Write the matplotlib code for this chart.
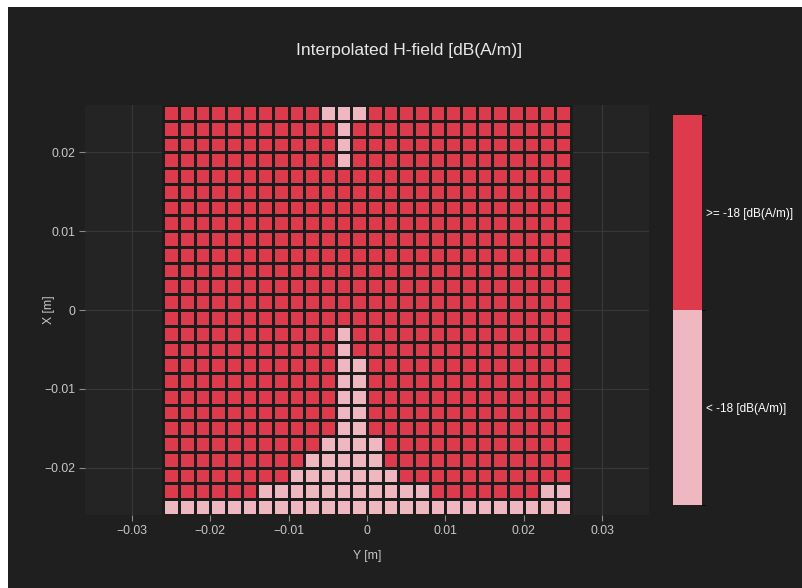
import matplotlib
matplotlib.use("Agg")
import matplotlib.pyplot as plt
import numpy as np
from matplotlib.colors import ListedColormap, BoundaryNorm
from matplotlib.patches import Rectangle

plt.rcParams['font.family'] = ['Liberation Sans', 'DejaVu Sans']

# grid cell centres (m)
y_centres = [-0.025, -0.023, -0.021, -0.019, -0.017, -0.015, -0.013, -0.011, -0.009,
             -0.007, -0.005, -0.003, -0.001, 0.001, 0.003, 0.005, 0.007, 0.009,
             0.011, 0.013, 0.015, 0.017, 0.019, 0.021, 0.023, 0.025]
x_centres = list(y_centres)

# 1 = ">= -18 dB(A/m)", 0 = "< -18 dB(A/m)", rows from x = 0.025 down to x = -0.025
rows = [
    "11111111110001111111111111",
    "11111111111011111111111111",
    "11111111111011111111111111",
    "11111111111011111111111111",
    "11111111111111111111111111",
    "11111111111111111111111111",
    "11111111111111111111111111",
    "11111111111111111111111111",
    "11111111111111111111111111",
    "11111111111111111111111111",
    "11111111111111111111111111",
    "11111111111111111111111111",
    "11111111111111111111111111",
    "11111111111111111111111111",
    "11111111111011111111111111",
    "11111111111011111111111111",
    "11111111111001111111111111",
    "11111111111001111111111111",
    "11111111111001111111111111",
    "11111111111001111111111111",
    "11111111111001111111111111",
    "11111111110000111111111111",
    "11111111100000111111111111",
    "11111111000000011111111111",
    "11111100000000000111111100",
    "00000000000000000000000000",
]
levels = ["< -18 [dB(A/m)]", ">= -18 [dB(A/m)]"]

x_ticks = [-0.03, -0.02, -0.01, 0, 0.01, 0.02, 0.03]
x_ticklabels = ["\u22120.03", "\u22120.02", "\u22120.01", "0", "0.01", "0.02", "0.03"]
y_ticks = [-0.02, -0.01, 0, 0.01, 0.02]
y_ticklabels = ["\u22120.02", "\u22120.01", "0", "0.01", "0.02"]

grid = np.array([[int(c) for c in r] for r in rows[::-1]])

W, H = 803, 588
fig = plt.figure(figsize=(W / 100, H / 100), dpi=100, facecolor="white")
fig.patches.append(Rectangle((8 / W, 0), 1, 1 - 7 / H, transform=fig.transFigure,
                             facecolor="#1f1f1f", edgecolor="none", zorder=-10))

ax = fig.add_axes([85 / W, 1 - 515 / H, 564 / W, 410 / H])
ax.set_facecolor("#242424")

cmap = ListedColormap(["#efb8c0", "#dd3a4b"])
norm = BoundaryNorm([-0.5, 0.5, 1.5], cmap.N)

step = 0.002
xe = np.append(np.array(y_centres) - step / 2, y_centres[-1] + step / 2)
ye = np.append(np.array(x_centres) - step / 2, x_centres[-1] + step / 2)
mesh = ax.pcolormesh(xe, ye, grid, cmap=cmap, norm=norm,
                     edgecolors="#1c1c1c", linewidth=1.0, zorder=2)

ax.set_xlim(-0.036, 0.036)
ax.set_ylim(-0.026, 0.026)
ax.set_xticks(x_ticks)
ax.set_xticklabels(x_ticklabels)
ax.set_yticks(y_ticks)
ax.set_yticklabels(y_ticklabels)
ax.grid(True, color="#383838", linewidth=0.8, zorder=0)
ax.set_axisbelow(True)
for s in ax.spines.values():
    s.set_visible(False)
ax.tick_params(colors="#8a8a8a", labelcolor="#c8c8c8", labelsize=8.8,
               length=4, width=0.8, direction="out", pad=3)
ax.set_xlabel("Y [m]", color="#c8c8c8", fontsize=8.8)
ax.set_ylabel("X [m]", color="#c8c8c8", fontsize=8.8)
ax.xaxis.set_label_coords(0.5, -(556 - 515) / 410)
ax.yaxis.set_label_coords((49 - 85) / 564, 0.5)
ax.xaxis.label.set_va("center")
ax.yaxis.label.set_va("center")

fig.text(409.5 / W, 1 - 50 / H, "Interpolated H-field [dB(A/m)]", color="#e8e8e8",
         fontsize=12.6, ha="center", va="center")

cax = fig.add_axes([673 / W, 1 - 505 / H, 29 / W, 390 / H])
cb = fig.colorbar(mesh, cax=cax, ticks=[0, 1])
cb.set_ticklabels(levels)
cb.outline.set_visible(False)
cax.tick_params(length=0, labelcolor="white", labelsize=8.5, pad=3)

fig.savefig("out.png", dpi=100, facecolor=fig.get_facecolor())
